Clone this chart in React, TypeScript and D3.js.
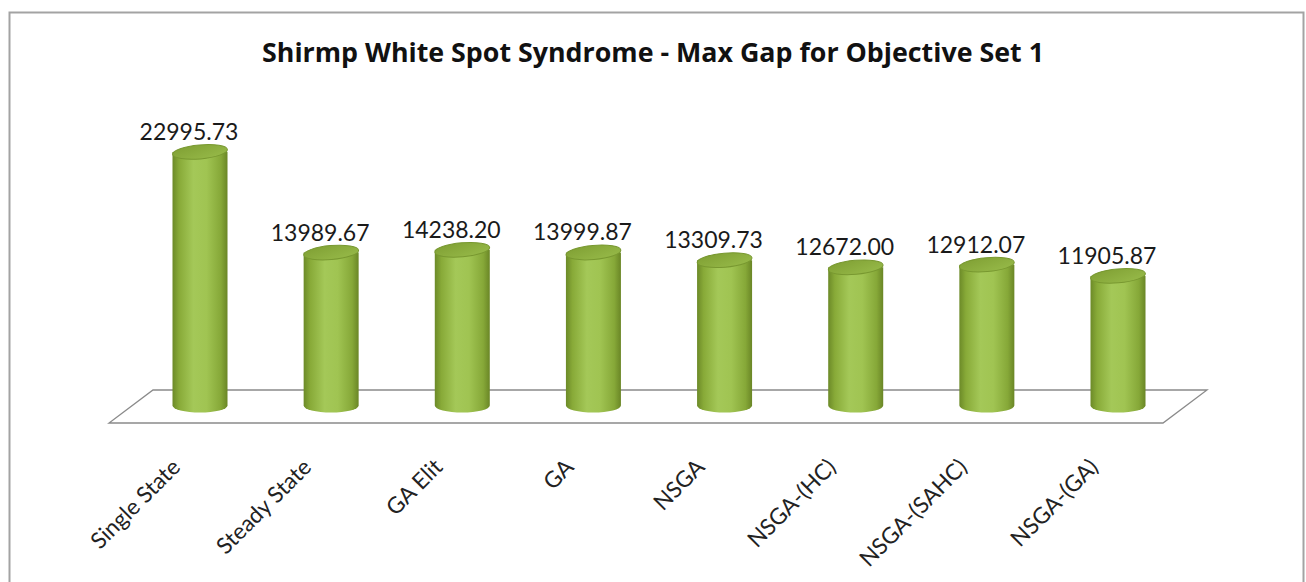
import React from "react";
import * as d3 from "d3";

const categories = [
  "Single State",
  "Steady State",
  "GA Elit",
  "GA",
  "NSGA",
  "NSGA-(HC)",
  "NSGA-(SAHC)",
  "NSGA-(GA)",
];
const maxGap = [22995.73, 13989.67, 14238.2, 13999.87, 13309.73, 12672.0, 12912.07, 11905.87];
const valueLabels = ["22995.73", "13989.67", "14238.20", "13999.87", "13309.73", "12672.00", "12912.07", "11905.87"];
const title = "Shirmp White Spot Syndrome - Max Gap for Objective Set 1";

const W = 1306;
const H = 582;

export default function App() {
  const x = d3.scalePoint<string>().domain(categories).range([200, 1118]);
  const y = d3.scaleLinear().domain([0, 25000]).range([409, 129.5]);

  const rx = 27.5;
  const ry = 7;
  const baseCy = 405.5;

  // floor parallelogram under the cylinders
  const floorBackY = 390;
  const floorFrontY = 423;
  const floorLeftBack = x(categories[0])! - 47;
  const floorRightBack = x(categories[categories.length - 1])! + 89;
  const skew = 44;
  const floor = d3.path();
  floor.moveTo(floorLeftBack, floorBackY);
  floor.lineTo(floorRightBack, floorBackY);
  floor.lineTo(floorRightBack - skew, floorFrontY);
  floor.lineTo(floorLeftBack - skew, floorFrontY);
  floor.closePath();

  const font = "Lato, 'Open Sans', sans-serif";
  const titleFont = "'Open Sans', Lato, sans-serif";

  return (
    <svg
      width={W}
      height={H}
      style={{ position: "fixed", left: 0, top: 0, background: "#fff" }}
    >
      <defs>
        <linearGradient id="cyl" x1="0" x2="1" y1="0" y2="0">
          <stop offset="0%" stopColor="#6c8a28" />
          <stop offset="12%" stopColor="#88aa38" />
          <stop offset="38%" stopColor="#a4c858" />
          <stop offset="62%" stopColor="#a0c452" />
          <stop offset="88%" stopColor="#86a838" />
          <stop offset="100%" stopColor="#6a8626" />
        </linearGradient>
        <linearGradient id="capFill" x1="0" x2="1" y1="0" y2="1">
          <stop offset="0%" stopColor="#7f9f33" />
          <stop offset="100%" stopColor="#98bb4a" />
        </linearGradient>
      </defs>

      <rect x={0} y={0} width={W} height={H} fill="#fff" />
      <rect
        x={9.5}
        y={12.5}
        width={1294}
        height={H + 10}
        fill="#fff"
        stroke="#a3a3a3"
        strokeWidth={2}
      />

      <text
        x={653}
        y={62}
        textAnchor="middle"
        fontFamily={titleFont}
        fontWeight={700}
        fontSize={26.8}
        fill="#111"
      >
        {title}
      </text>

      <path d={floor.toString()} fill="#fff" stroke="#8a8a8a" strokeWidth={1.3} />

      {categories.map((c, i) => {
        const cx = x(c)!;
        const topCy = y(maxGap[i]);
        const bodyD = `M${cx - rx},${topCy} L${cx - rx},${baseCy} A${rx},${ry} 0 0 0 ${cx + rx},${baseCy} L${cx + rx},${topCy} Z`;
        return (
          <g key={c}>
            <path d={bodyD} fill="url(#cyl)" />
            <ellipse
              cx={cx}
              cy={topCy}
              rx={rx}
              ry={ry}
              fill="url(#capFill)"
              stroke="#789830"
              strokeWidth={1}
              transform={`rotate(-5 ${cx} ${topCy})`}
            />
            <text
              x={cx - 11}
              y={topCy - ry - 5}
              textAnchor="middle"
              fontFamily={font}
              fontSize={23}
              fill="#1a1a1a"
            >
              {valueLabels[i]}
            </text>
            <text
              transform={`translate(${cx - 24},${463}) rotate(-45)`}
              textAnchor="end"
              dy="0.35em"
              fontFamily={font}
              fontSize={22.5}
              fill="#222"
            >
              {c}
            </text>
          </g>
        );
      })}
    </svg>
  );
}
